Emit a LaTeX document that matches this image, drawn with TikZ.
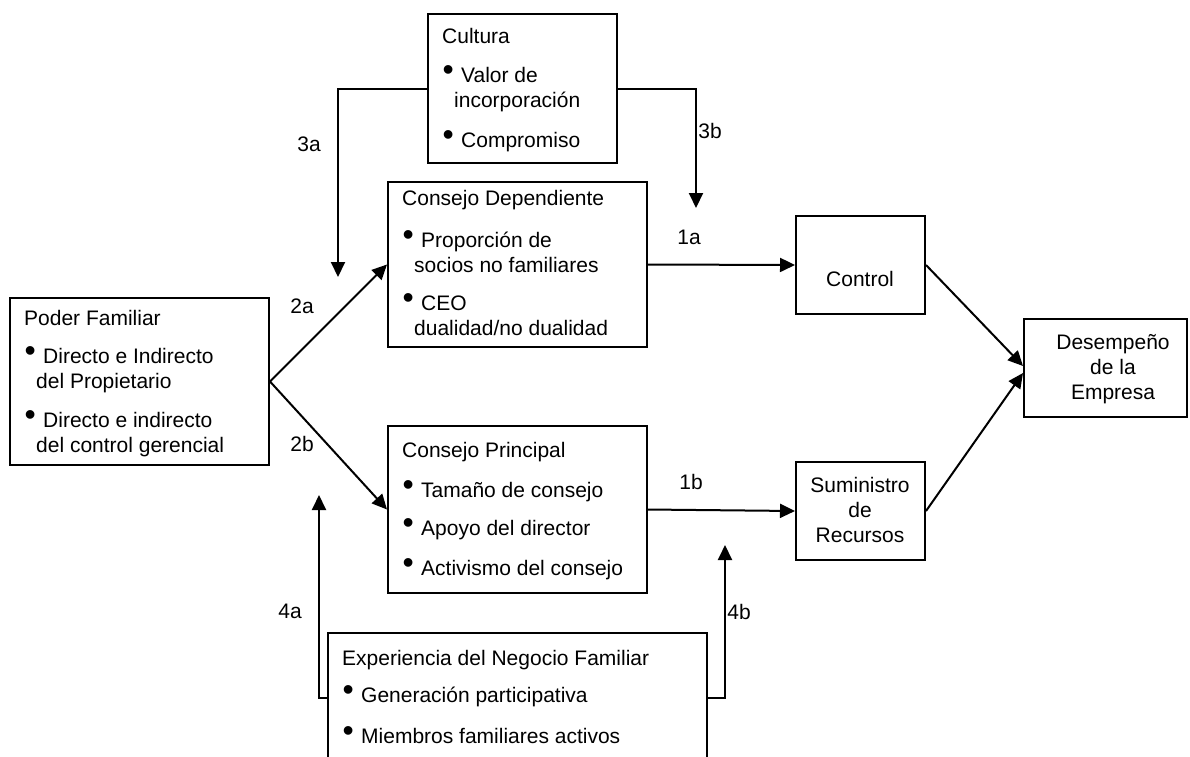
\documentclass[tikz,border=0pt]{standalone}
\usepackage{fontspec}
\setmainfont{Liberation Sans}
\usetikzlibrary{arrows.meta,positioning}

\newcommand{\itm}[1]{\makebox[19pt][l]{\hspace*{0.5pt}\raisebox{1.5pt}{\fontsize{32}{32}\selectfont •}}#1}
\newcommand{\cnt}[1]{\hspace*{12pt}#1}
\newcommand{\lines}[1]{\parbox[t]{360pt}{#1}}
\newcommand{\clines}[1]{\parbox[t]{150pt}{\centering #1}}

\tikzset{
  box/.style={draw, line width=2pt, inner sep=0pt, anchor=north west},
  txt/.style={inner sep=0pt, anchor=base west},
  ctxt/.style={inner sep=0pt, anchor=base},
  num/.style={inner sep=0pt, anchor=base},
  conn/.style={line width=2pt, -{Triangle[length=15pt,width=14pt]}},
}

\begin{document}
\begin{tikzpicture}[x=1pt,y=-1pt,every node/.style={font=\fontsize{21}{25}\selectfont}]
\useasboundingbox (0,0) rectangle (1190,756);

% boxes
\node[box, minimum width=189pt, minimum height=149pt] (cul) at (427,13) {};
\node[box, minimum width=259pt, minimum height=165pt] (cd) at (387,181) {};
\node[box, minimum width=259pt, minimum height=167pt] (cp) at (387,425) {};
\node[box, minimum width=259pt, minimum height=167pt] (pf) at (9,297) {};
\node[box, minimum width=129pt, minimum height=98pt] (ctrl) at (795,215) {};
\node[box, minimum width=129pt, minimum height=98pt] (sum) at (795,461) {};
\node[box, minimum width=163pt, minimum height=98pt] (des) at (1023,318) {};
\node[box, minimum width=379pt, minimum height=130pt] (exp) at (327,632) {};

% texts
\node[txt] (cul-t) at (442,43) {\lines{Cultura\\[14pt]
  \itm{Valor de}\\
  \cnt{incorporación}\\[15pt]
  \itm{Compromiso}}};
\node[txt] (cd-t) at (402,205) {\lines{Consejo Dependiente\\[17pt]
  \itm{Proporción de}\\
  \cnt{socios no familiares}\\[13pt]
  \itm{CEO}\\
  \cnt{dualidad/no dualidad}}};
\node[txt] (cp-t) at (402,457) {\lines{Consejo Principal\\[15pt]
  \itm{Tamaño de consejo}\\[13pt]
  \itm{Apoyo del director}\\[15pt]
  \itm{Activismo del consejo}}};
\node[txt] (pf-t) at (24,325) {\lines{Poder Familiar\\[13pt]
  \itm{Directo e Indirecto}\\
  \cnt{del Propietario}\\[14pt]
  \itm{Directo e indirecto}\\
  \cnt{del control gerencial}}};
\node[txt] (exp-t) at (342,665) {\lines{Experiencia del Negocio Familiar\\[12pt]
  \itm{Generación participativa}\\[16pt]
  \itm{Miembros familiares activos}}};
\node[ctxt] (ctrl-t) at (860,286) {Control};
\node[ctxt] (sum-t) at (860,492) {\clines{Suministro\\de\\Recursos}};
\node[ctxt] (des-t) at (1113,349) {\clines{Desempeño\\de la\\Empresa}};

% free ends
\coordinate (t3a) at (338,277);
\coordinate (t3b) at (696,208);
\coordinate (t4a) at (319,495);
\coordinate (t4b) at (725,545);

% connectors
\draw[conn] (cul.west) -| (t3a);
\draw[conn] (cul.east) -| (t3b);
\draw[conn] (exp.west) -| (t4a);
\draw[conn] (exp.east) -| (t4b);
\draw[conn] (pf.east) -- (cd.west);
\draw[conn] (pf.east) -- (cp.west);
\draw[conn] (cd.east) -- (ctrl.west);
\draw[conn] (cp.east) -- (sum.west);
\draw[conn] (ctrl.east) -- ([yshift=2pt]des.west);
\draw[conn] (sum.east) -- ([yshift=-5pt]des.west);

% labels
\node[num] (l3a) at (309,151) {3a};
\node[num] (l3b) at (710,138) {3b};
\node[num] (l2a) at (302,313) {2a};
\node[num] (l2b) at (302,451) {2b};
\node[num] (l1a) at (689,244) {1a};
\node[num] (l1b) at (691,489) {1b};
\node[num] (l4a) at (290,618) {4a};
\node[num] (l4b) at (739,619) {4b};
\end{tikzpicture}
\end{document}
